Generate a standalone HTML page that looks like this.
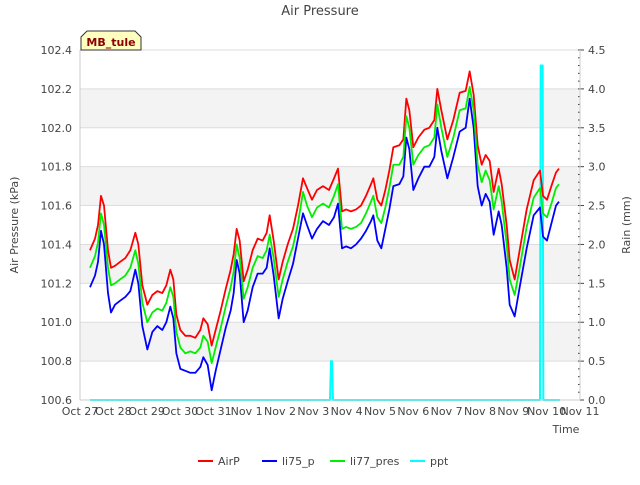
<!DOCTYPE html>
<html><head><meta charset="utf-8"><style>
body{margin:0;background:#fff;font-family:"Liberation Sans","DejaVu Sans",sans-serif}
svg text{font-family:"DejaVu Sans","Liberation Sans",sans-serif;fill:#444}
</style></head><body>
<svg id="c" width="640" height="480" viewBox="0 0 640 480" xmlns="http://www.w3.org/2000/svg">
<text x="320" y="15" text-anchor="middle" font-size="13">Air Pressure</text>
<g id="bands"></g><g id="grid"></g>
<g id="series"></g>
<g id="axes"></g>
<text x="566" y="433" text-anchor="middle" font-size="11">Time</text>
<text transform="translate(18,225) rotate(-90)" text-anchor="middle" font-size="11">Air Pressure (kPa)</text>
<text transform="translate(630,225) rotate(-90)" text-anchor="middle" font-size="11">Rain (mm)</text>
<g>
<path d="M81,50 L81,37 L87,31 L135,31 L141,37 L141,50 Z" fill="#ffffc0" stroke="#333" stroke-width="1"/>
<text x="111" y="46" text-anchor="middle" font-size="11" font-weight="bold" style="fill:#8b0000">MB_tule</text>
</g>
<g id="legend"></g>
</svg>
<script>
const times=[0.30,0.45,0.54,0.63,0.72,0.84,0.93,1.05,1.20,1.36,1.51,1.66,1.75,1.87,2.02,2.17,2.32,2.47,2.59,2.71,2.80,2.89,3.01,3.16,3.31,3.46,3.61,3.70,3.83,3.95,4.07,4.22,4.37,4.52,4.61,4.70,4.79,4.91,5.03,5.18,5.33,5.48,5.60,5.69,5.81,5.96,6.08,6.23,6.39,6.54,6.69,6.81,6.96,7.11,7.29,7.47,7.62,7.74,7.86,7.98,8.13,8.28,8.43,8.58,8.73,8.80,8.92,9.04,9.16,9.28,9.40,9.58,9.70,9.79,9.88,10.0,10.15,10.33,10.48,10.63,10.72,10.84,11.02,11.20,11.39,11.57,11.69,11.81,11.93,12.05,12.17,12.29,12.41,12.56,12.65,12.80,12.89,13.04,13.19,13.40,13.61,13.80,13.89,14.01,14.16,14.28,14.37];
const airP=[101.37,101.43,101.50,101.65,101.60,101.37,101.28,101.29,101.31,101.33,101.37,101.46,101.40,101.19,101.09,101.14,101.16,101.15,101.19,101.27,101.22,101.04,100.96,100.93,100.93,100.92,100.96,101.02,100.99,100.88,100.96,101.06,101.17,101.27,101.35,101.48,101.42,101.21,101.27,101.37,101.43,101.42,101.46,101.55,101.42,101.22,101.31,101.40,101.48,101.60,101.74,101.69,101.63,101.68,101.70,101.68,101.74,101.79,101.57,101.58,101.57,101.58,101.60,101.65,101.71,101.74,101.63,101.60,101.68,101.78,101.90,101.91,101.94,102.15,102.09,101.90,101.95,101.99,102.00,102.04,102.20,102.09,101.94,102.04,102.18,102.19,102.29,102.17,101.91,101.81,101.86,101.83,101.67,101.79,101.71,101.50,101.32,101.22,101.37,101.58,101.73,101.78,101.65,101.63,101.71,101.77,101.79];
const li77=[101.28,101.34,101.41,101.56,101.50,101.28,101.19,101.20,101.22,101.24,101.28,101.37,101.30,101.10,101.00,101.05,101.07,101.06,101.10,101.18,101.13,100.95,100.87,100.84,100.85,100.84,100.87,100.93,100.90,100.79,100.87,100.97,101.08,101.18,101.26,101.40,101.33,101.12,101.18,101.28,101.34,101.33,101.37,101.45,101.33,101.13,101.22,101.31,101.39,101.51,101.67,101.60,101.54,101.59,101.61,101.59,101.65,101.71,101.48,101.49,101.48,101.49,101.51,101.56,101.62,101.65,101.54,101.51,101.59,101.69,101.81,101.81,101.85,102.06,102.00,101.81,101.86,101.90,101.91,101.95,102.12,102.00,101.85,101.95,102.09,102.10,102.21,102.09,101.81,101.72,101.78,101.73,101.58,101.70,101.62,101.40,101.22,101.14,101.28,101.49,101.64,101.69,101.56,101.54,101.62,101.69,101.71];
const li75=[101.18,101.24,101.31,101.47,101.40,101.15,101.05,101.09,101.11,101.13,101.16,101.27,101.20,100.98,100.86,100.95,100.98,100.96,101.00,101.08,101.02,100.84,100.76,100.75,100.74,100.74,100.77,100.82,100.78,100.65,100.75,100.86,100.97,101.06,101.15,101.32,101.25,101.00,101.06,101.18,101.25,101.25,101.28,101.38,101.24,101.02,101.12,101.21,101.30,101.43,101.56,101.50,101.43,101.48,101.52,101.50,101.54,101.61,101.38,101.39,101.38,101.40,101.43,101.47,101.52,101.55,101.42,101.38,101.48,101.58,101.70,101.71,101.75,101.95,101.89,101.68,101.74,101.80,101.80,101.85,102.00,101.88,101.74,101.85,101.98,102.00,102.15,102.00,101.70,101.60,101.66,101.62,101.45,101.57,101.50,101.28,101.09,101.03,101.18,101.38,101.55,101.59,101.44,101.42,101.52,101.60,101.62];
const rainT=[0.30,7.50,7.53,7.56,7.59,13.80,13.82,13.88,13.90,14.40];
const rainV=[0,0,0.5,0.5,0,0,4.3,4.3,0,0];
const xLabels=["Oct 27","Oct 28","Oct 29","Oct 30","Oct 31","Nov 1","Nov 2","Nov 3","Nov 4","Nov 5","Nov 6","Nov 7","Nov 8","Nov 9","Nov 10","Nov 11"];
const yTicks=[100.6,100.8,101.0,101.2,101.4,101.6,101.8,102.0,102.2,102.4];
const y2Ticks=[0,0.5,1,1.5,2,2.5,3,3.5,4,4.5];

const L=80,R=580,T=50,B=400,NS="http://www.w3.org/2000/svg";
const xs=d=>L+d*(R-L)/15;
const ys=v=>B-(v-100.6)*(B-T)/1.8;
const y2=v=>B-v*(B-T)/4.5;
function mk(tag,at,parent){const e=document.createElementNS(NS,tag);for(const k in at)e.setAttribute(k,at[k]);document.getElementById(parent).appendChild(e);return e;}
[100.8,101.2,101.6,102.0].forEach(v=>{const r=mk('rect',{x:L,y:ys(v+0.2),width:R-L,height:ys(v)-ys(v+0.2),fill:'#f3f3f3'},'bands');

});
yTicks.forEach(v=>{const l=mk('line',{x1:L,x2:R,y1:ys(v),y2:ys(v),stroke:'#ddd','stroke-width':1},'grid');


const t=mk('text',{x:L-8,y:ys(v)+4,'text-anchor':'end','font-size':11},'axes');t.textContent=v.toFixed(1);

});
y2Ticks.forEach(v=>{const t=mk('text',{x:R+8,y:y2(v)+4,'font-size':11},'axes');t.textContent=v.toFixed(1);


mk('line',{x1:R,x2:R+4,y1:y2(v),y2:y2(v),stroke:'#444'},'axes');});
for(let i=0;i<=45;i++){mk('line',{x1:R-2,x2:R,y1:y2(i/10),y2:y2(i/10),stroke:'#444'},'axes');}
xLabels.forEach((s,i)=>{const t=mk('text',{x:xs(i),y:415,'text-anchor':'middle','font-size':11},'axes');t.textContent=s;

});
mk('line',{x1:L,x2:L,y1:T,y2:B,stroke:'#ccc'},'axes');
mk('line',{x1:R,x2:R,y1:T,y2:B,stroke:'#ccc'},'axes');
mk('line',{x1:L,x2:R,y1:B,y2:B,stroke:'#ccc'},'axes');
function series(vals,tv,yf,color,name,w){const p=mk('polyline',{points:tv.map((t,i)=>xs(t)+','+yf(vals[i])).join(' '),fill:'none',stroke:color,'stroke-width':w,'stroke-linejoin':'round'},'series');

}
series(rainV,rainT,y2,'#00ffff','ppt-series',2);
series(airP,times,ys,'#ff0000','airp-series',1.8);
series(li75,times,ys,'#0000ff','li75-p-series',1.8);
series(li77,times,ys,'#00ee00','li77-pres-series',1.8);
[["AirP","#ff0000",198],["li75_p","#0000ff",262],["li77_pres","#00ee00",330],["ppt","#00ffff",410]].forEach(e=>{
const g=mk('g',{},'legend');


const l=document.createElementNS(NS,'line');l.setAttribute('x1',e[2]);l.setAttribute('x2',e[2]+15);l.setAttribute('y1',461);l.setAttribute('y2',461);l.setAttribute('stroke',e[1]);l.setAttribute('stroke-width',2);g.appendChild(l);
const t=document.createElementNS(NS,'text');t.setAttribute('x',e[2]+20);t.setAttribute('y',465);t.setAttribute('font-size',11);t.textContent=e[0];g.appendChild(t);});
</script>
</body></html>
